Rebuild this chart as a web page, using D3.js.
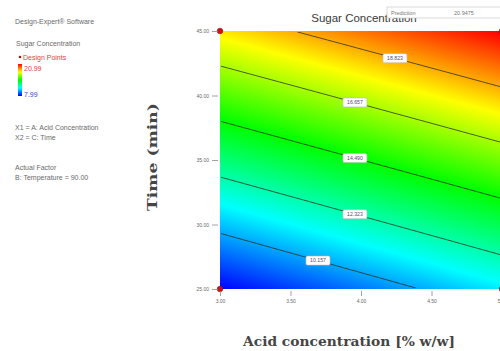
<!DOCTYPE html>
<html>
<head>
<meta charset="utf-8">
<script src="https://cdn.jsdelivr.net/npm/d3@7/dist/d3.min.js"></script>
<style>
  html, body { margin: 0; padding: 0; background: #fff; overflow: hidden; }
  svg { display: block; }
</style>
</head>
<body>
<svg id="chart" width="500" height="351"></svg>
<script>
// ---- data -------------------------------------------------------------
// Sugar concentration response surface: acid concentration (A) x time (C),
// temperature held at its actual-factor value.
const acidTicks = [3.00, 3.50, 4.00, 4.50, 5.00];
const timeTicks = [25.00, 30.00, 35.00, 40.00, 45.00];
const acidDomain = [3.00, 5.00];
const timeDomain = [25.00, 45.00];

// Fitted model in coded units (A, C in -1..+1)
const modelTerms = ["Intercept", "A", "C", "C^2"];
const modelCoefs = [14.48, 1.50, 5.00, 0.056];

const responseRange = [7.99, 20.99];
const contourLevels = [10.157, 12.323, 14.490, 16.657, 18.823];

const designAcid = [3.00, 3.00, 5.00, 5.00];
const designTime = [25.00, 45.00, 25.00, 45.00];

const predictionLabel = "Prediction";
const predictionValue = "20.9475";

const sideNotes = [
  "X1 = A: Acid Concentration",
  "X2 = C: Time"
];
const factorNotes = [
  "Actual Factor",
  "B: Temperature = 90.00"
];

// ---- layout -----------------------------------------------------------
const W = 500, H = 351;
const plot = { x0: 220, x1: 502, y0: 31, y1: 289 };
const labelAnchorAcid = [3.695, 3.957, 3.957, 3.957, 4.241]; // where each contour label sits
const sans = "'Liberation Sans', Arial, sans-serif";
const serif = "'DejaVu Serif', 'Liberation Serif', serif";

const svg = d3.select("#chart");

const x = d3.scaleLinear().domain(acidDomain).range([plot.x0, plot.x1]);
const y = d3.scaleLinear().domain(timeDomain).range([plot.y1, plot.y0]);

const color = d3.scaleLinear()
  .domain(d3.range(5).map(i => responseRange[0] + i * (responseRange[1] - responseRange[0]) / 4))
  .range(["#0000ff", "#00ffff", "#00ff00", "#ffff00", "#ff0000"])
  .clamp(true);

// evaluate the coded model
function response(acid, time) {
  const A = (acid - 4) / 1;
  const C = (time - 35) / 10;
  const vars = { "Intercept": 1, "A": A, "C": C, "C^2": C * C };
  return d3.sum(modelTerms, (t, i) => modelCoefs[i] * vars[t]);
}

// ---- gridded surface ---------------------------------------------------
const nx = 141, ny = 129;
const cw = (plot.x1 - plot.x0) / nx, ch = (plot.y1 - plot.y0) / ny;
const grid = new Array(nx * ny);
for (let j = 0; j < ny; j++) {
  const t = y.invert(plot.y0 + (j + 0.5) * ch);
  for (let i = 0; i < nx; i++) {
    const a = x.invert(plot.x0 + (i + 0.5) * cw);
    grid[j * nx + i] = response(a, t);
  }
}

const toPixels = d3.geoTransform({
  point(gx, gy) { this.stream.point(plot.x0 + gx * cw, plot.y0 + gy * ch); }
});
const path = d3.geoPath(toPixels);

const defs = svg.append("defs");
defs.append("clipPath").attr("id", "plotClip")
  .append("rect")
  .attr("x", plot.x0).attr("y", plot.y0)
  .attr("width", plot.x1 - plot.x0).attr("height", plot.y1 - plot.y0);
defs.append("clipPath").attr("id", "lineClip")
  .append("rect")
  .attr("x", plot.x0 + 1).attr("y", plot.y0 + 1)
  .attr("width", plot.x1 - plot.x0 - 2).attr("height", plot.y1 - plot.y0 - 2);

// filled colour bands
const bandCount = 260;
const bandThresholds = d3.range(bandCount).map(k =>
  responseRange[0] - 0.3 + k * (responseRange[1] - responseRange[0] + 0.6) / bandCount);
const fills = d3.contours().size([nx, ny]).thresholds(bandThresholds)(grid);

const surface = svg.append("g").attr("clip-path", "url(#plotClip)");
surface.append("rect")
  .attr("x", plot.x0).attr("y", plot.y0)
  .attr("width", plot.x1 - plot.x0).attr("height", plot.y1 - plot.y0)
  .attr("fill", color(responseRange[0]));
surface.selectAll("path.band")
  .data(fills)
  .join("path")
  .attr("class", "band")
  .attr("d", path)
  .attr("fill", d => color(d.value))
  .attr("stroke", d => color(d.value))
  .attr("stroke-width", 0.3);

// contour lines
const isolines = d3.contours().size([nx, ny]).thresholds(contourLevels)(grid);
svg.append("g").attr("clip-path", "url(#lineClip)")
  .selectAll("path.iso")
  .data(isolines)
  .join("path")
  .attr("class", "iso")
  .attr("d", path)
  .attr("fill", "none")
  .attr("stroke", "#2a2a1a")
  .attr("stroke-opacity", 0.85)
  .attr("stroke-width", 0.9);

// contour labels placed on their line
function timeOnContour(acid, level) {
  let lo = 15, hi = 55;
  for (let k = 0; k < 60; k++) {
    const mid = (lo + hi) / 2;
    if (response(acid, mid) < level) lo = mid; else hi = mid;
  }
  return (lo + hi) / 2;
}
const fmt3 = d3.format(".3f");
const lbl = svg.append("g").selectAll("g")
  .data(contourLevels)
  .join("g")
  .attr("transform", (d, i) =>
    `translate(${x(labelAnchorAcid[i])},${y(timeOnContour(labelAnchorAcid[i], d))})`);
lbl.append("rect")
  .attr("x", -12).attr("y", -4.5).attr("width", 24).attr("height", 9)
  .attr("rx", 1.5)
  .attr("fill", "#fff").attr("stroke", "#bbb").attr("stroke-width", 0.6);
lbl.append("text")
  .attr("text-anchor", "middle").attr("dy", "0.35em")
  .attr("font-family", sans).attr("font-size", 5.2)
  .attr("fill", "#5a4a78")
  .text(d => fmt3(d));

// design points
svg.append("g").selectAll("circle")
  .data(designAcid.map((a, i) => [a, designTime[i]]))
  .join("circle")
  .attr("cx", d => x(d[0])).attr("cy", d => y(d[1]))
  .attr("r", 2.8)
  .attr("fill", "#d01010").attr("stroke", "#901010").attr("stroke-width", 0.6);

// ---- axes ------------------------------------------------------------
const fmt2 = d3.format(".2f");
const xAxis = svg.append("g")
  .attr("transform", `translate(0,${plot.y1 + 2})`)
  .call(d3.axisBottom(x).tickValues(acidTicks).tickFormat(fmt2).tickSize(5).tickPadding(3));
const yAxis = svg.append("g")
  .attr("transform", `translate(${plot.x0 - 2},0)`)
  .call(d3.axisLeft(y).tickValues(timeTicks).tickFormat(fmt2).tickSize(6).tickPadding(3));
[xAxis, yAxis].forEach(g => {
  g.select(".domain").remove();
  g.selectAll(".tick line").attr("stroke", "#8a8a8a").attr("stroke-width", 0.8);
  g.selectAll(".tick text")
    .attr("font-family", sans).attr("font-size", 5).attr("fill", "#6a6a6a");
});

svg.append("text")
  .attr("x", 349).attr("y", 346)
  .attr("text-anchor", "middle")
  .attr("font-family", serif).attr("font-weight", "bold").attr("font-size", 12.5)
  .attr("fill", "#454545")
  .attr("textLength", 212).attr("lengthAdjust", "spacingAndGlyphs")
  .text("Acid concentration [% w/w]");

svg.append("text")
  .attr("transform", "translate(157,157) rotate(-90)")
  .attr("text-anchor", "middle")
  .attr("font-family", serif).attr("font-weight", "bold").attr("font-size", 12.5)
  .attr("fill", "#454545")
  .attr("textLength", 108).attr("lengthAdjust", "spacingAndGlyphs")
  .text("Time (min)");

// ---- title & prediction flag -------------------------------------------
svg.append("text")
  .attr("x", 364).attr("y", 22)
  .attr("text-anchor", "middle")
  .attr("font-family", sans).attr("font-size", 11.5)
  .attr("fill", "#3a3a3a")
  .text("Sugar Concentration");

const pred = svg.append("g");
pred.append("rect")
  .attr("x", 387).attr("y", 7).attr("width", 130).attr("height", 11)
  .attr("fill", "#fff").attr("stroke", "#c8c8c8").attr("stroke-width", 0.7);
pred.append("text")
  .attr("x", 391).attr("y", 14.5)
  .attr("font-family", sans).attr("font-size", 5.5).attr("fill", "#777")
  .text(predictionLabel);
pred.append("text")
  .attr("x", 454).attr("y", 14.5)
  .attr("font-family", sans).attr("font-size", 5.5).attr("fill", "#777")
  .text(predictionValue);

// ---- side panel ------------------------------------------------------------
const side = svg.append("g").attr("font-family", sans).attr("font-size", 7).attr("fill", "#6a6a6a");
const sx = 15;
side.append("text").attr("x", sx).attr("y", 23.5).text("Design-Expert® Software");
side.append("text").attr("x", sx + 1).attr("y", 45.5).text("Sugar Concentration");
side.append("circle").attr("cx", sx + 5).attr("cy", 57).attr("r", 1.3).attr("fill", "#a01818");
side.append("text").attr("x", sx + 8).attr("y", 59.5).attr("fill", "#e04040").text("Design Points");

const grad = defs.append("linearGradient").attr("id", "legendGrad")
  .attr("x1", 0).attr("y1", 1).attr("x2", 0).attr("y2", 0);
color.domain().forEach((v, i, arr) => {
  grad.append("stop")
    .attr("offset", i / (arr.length - 1))
    .attr("stop-color", color(v));
});
side.append("rect")
  .attr("x", sx + 3).attr("y", 64).attr("width", 4).attr("height", 32)
  .attr("fill", "url(#legendGrad)");
side.append("text").attr("x", sx + 9).attr("y", 71).attr("fill", "#e04040").text(fmt2(responseRange[1]));
side.append("text").attr("x", sx + 9).attr("y", 96.5).attr("fill", "#4040e0").text(fmt2(responseRange[0]));

sideNotes.forEach((t, i) => side.append("text").attr("x", sx).attr("y", 129.5 + i * 10.5).text(t));
factorNotes.forEach((t, i) => side.append("text").attr("x", sx).attr("y", 169.5 + i * 10).text(t));
</script>
</body>
</html>
